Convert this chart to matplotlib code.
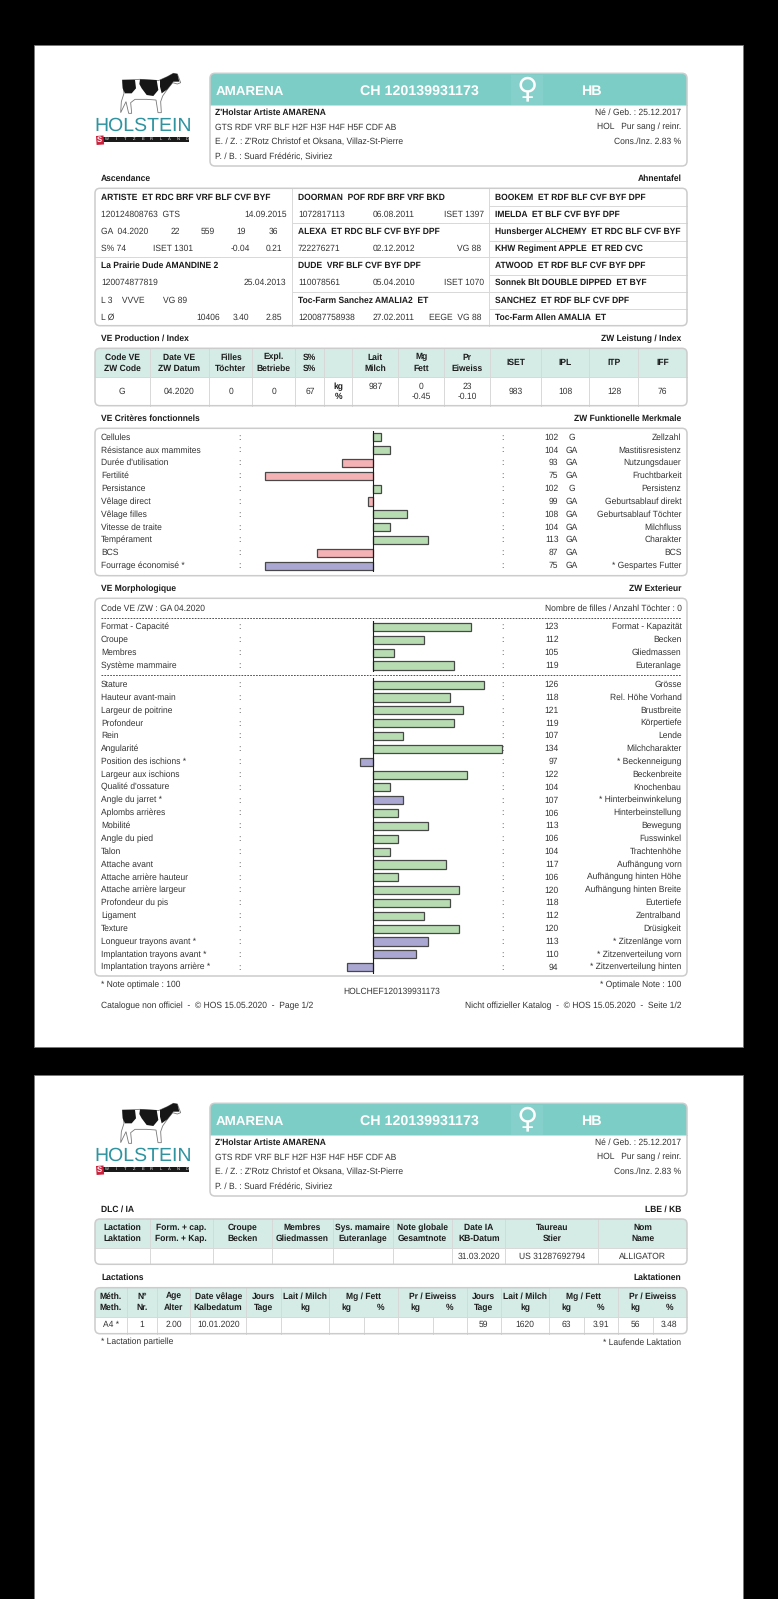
import matplotlib
matplotlib.use("Agg")
import matplotlib.pyplot as plt
from matplotlib.patches import FancyBboxPatch, Rectangle, Polygon
import numpy as np

plt.rcParams['font.family'] = ['Liberation Sans', 'DejaVu Sans']
plt.rcParams['text.hinting'] = 'none'

# identification
animal_name = "AMARENA"
animal_id = "CH 120139931173"
animal_breed = "HB"
info_left = ["Z'Holstar Artiste AMARENA", "GTS RDF VRF BLF H2F H3F H4F H5F CDF AB",
             "E. / Z. : Z'Rotz Christof et Oksana, Villaz-St-Pierre", "P. / B. : Suard Frédéric, Siviriez"]
info_right = ["Né / Geb. : 25.12.2017", "HOL   Pur sang / reinr.", "Cons./Inz. 2.83 %"]

# pedigree, third column (all bold)
ped_col3 = ["BOOKEM  ET RDF BLF CVF BYF DPF", "IMELDA  ET BLF CVF BYF DPF",
            "Hunsberger ALCHEMY  ET RDC BLF CVF BYF", "KHW Regiment APPLE  ET RED CVC",
            "ATWOOD  ET RDF BLF CVF BYF DPF", "Sonnek Blt DOUBLE DIPPED  ET BYF",
            "SANCHEZ  ET RDF BLF CVF DPF", "Toc-Farm Allen AMALIA  ET"]

# production table
prod_head1 = ["Code VE", "Date VE", "Filles", "Expl.", "S%", "", "Lait", "Mg", "Pr"]
prod_head2 = ["ZW Code", "ZW Datum", "Töchter", "Betriebe", "S%", "", "Milch", "Fett", "Eiweiss"]
prod_index = ["ISET", "IPL", "ITP", "IFF"]
prod_values = ["G", "04.2020", "0", "0", "67"]
prod_index_values = ["983", "108", "128", "76"]

# functional traits
func_fr = ["Cellules", "Résistance aux mammites", "Durée d'utilisation", "Fertilité", "Persistance",
           "Vêlage direct", "Vêlage filles", "Vitesse de traite", "Tempérament", "BCS", "Fourrage économisé *"]
func_de = ["Zellzahl", "Mastitisresistenz", "Nutzungsdauer", "Fruchtbarkeit", "Persistenz",
           "Geburtsablauf direkt", "Geburtsablauf Töchter", "Milchfluss", "Charakter", "BCS", "* Gespartes Futter"]
func_values = [102, 104, 93, 75, 102, 99, 108, 104, 113, 87, 75]
func_codes = ["G", "GA", "GA", "GA", "G", "GA", "GA", "GA", "GA", "GA", "GA"]

# morphology, composite traits
comp_fr = ["Format - Capacité", "Croupe", "Membres", "Système mammaire"]
comp_de = ["Format - Kapazität", "Becken", "Gliedmassen", "Euteranlage"]
comp_values = [123, 112, 105, 119]

# morphology, linear traits
lin_fr = ["Stature", "Hauteur avant-main", "Largeur de poitrine", "Profondeur", "Rein", "Angularité",
          "Position des ischions *", "Largeur aux ischions", "Qualité d'ossature", "Angle du jarret *",
          "Aplombs arrières", "Mobilité", "Angle du pied", "Talon", "Attache avant", "Attache arrière hauteur",
          "Attache arrière largeur", "Profondeur du pis", "Ligament", "Texture", "Longueur trayons avant *",
          "Implantation trayons avant *", "Implantation trayons arrière *"]
lin_de = ["Grösse", "Rel. Höhe Vorhand", "Brustbreite", "Körpertiefe", "Lende", "Milchcharakter",
          "* Beckenneigung", "Beckenbreite", "Knochenbau", "* Hinterbeinwinkelung", "Hinterbeinstellung",
          "Bewegung", "Fusswinkel", "Trachtenhöhe", "Aufhängung vorn", "Aufhängung hinten Höhe",
          "Aufhängung hinten Breite", "Eutertiefe", "Zentralband", "Drüsigkeit", "* Zitzenlänge vorn",
          "* Zitzenverteilung vorn", "* Zitzenverteilung hinten"]
lin_values = [126, 118, 121, 119, 107, 134, 97, 122, 104, 107, 106, 113, 106, 104, 117, 106, 120, 118, 112,
              120, 113, 110, 94]

# page 2 tables
dlc_head1 = ["Lactation", "Form. + cap.", "Croupe", "Membres", "Sys. mamaire", "Note globale", "Date IA", "Taureau", "Nom"]
dlc_head2 = ["Laktation", "Form. + Kap.", "Becken", "Gliedmassen", "Euteranlage", "Gesamtnote", "KB-Datum", "Stier", "Name"]
dlc_values = ["", "", "", "", "", "", "31.03.2020", "US 31287692794", "ALLIGATOR"]

lact_head1 = ["Méth.", "N°", "Age", "Date vêlage", "Jours", "Lait / Milch", "Mg / Fett", "Pr / Eiweiss",
              "Jours", "Lait / Milch", "Mg / Fett", "Pr / Eiweiss"]
lact_head2 = ["Meth.", "Nr.", "Alter", "Kalbedatum", "Tage", "kg", "", "", "Tage", "kg", "", ""]
lact_values = ["A4 *", "1", "2.00", "10.01.2020", "59", "1620", "63", "3.91", "56", "3.48"]

TEAL = "#7ccdc6"
LIGHT = "#d5ebe6"
EDGE = "#cccccc"
LINE = "#d8d8d8"
INK = "#333333"
BOLD_INK = "#1c1c1c"
GREEN = "#b8dcb2"
PINK = "#f5b2b5"
PURPLE = "#aba7d3"
FS = 6.15

L, R = 101, 681.5
BOX_L, BOX_R = 95, 687

W, H = 778, 1599
fig = plt.figure(figsize=(W / 100, H / 100), dpi=100, facecolor="black")
ax = fig.add_axes([0, 0, 1, 1])
ax.set_xlim(0, W)
ax.set_ylim(H, 0)
ax.axis("off")


def t(x, y, s, ha="left", bold=False, size=FS, color=None, **kw):
    if color is None:
        color = BOLD_INK if bold else INK
    ax.text(x, y, s, ha=ha, va="center", size=size, color=color,
            fontweight="bold" if bold else "normal", **kw)


def box(x0, y0, x1, y1, head_to=None, head_color=LIGHT):
    outline = FancyBboxPatch((x0, y0), x1 - x0, y1 - y0, boxstyle="round,pad=0,rounding_size=5",
                             fc="white", ec="none", zorder=2)
    ax.add_patch(outline)
    if head_to is not None:
        r = Rectangle((x0, y0), x1 - x0, head_to - y0, fc=head_color, ec="none", zorder=2.1)
        ax.add_patch(r)
        r.set_clip_path(outline)
        ax.plot([x0, x1], [head_to, head_to], color=LINE, lw=0.7, zorder=3)
    # border goes over the filled head
    ax.add_patch(FancyBboxPatch((x0, y0), x1 - x0, y1 - y0, boxstyle="round,pad=0,rounding_size=5",
                                fc="none", ec=EDGE, lw=1.1, zorder=4))


def vlines(xs, y0, y1):
    for x in xs:
        ax.plot([x, x], [y0, y1], color=LINE, lw=0.7, zorder=3)


def hline(x0, x1, y):
    ax.plot([x0, x1], [y, y], color=LINE, lw=0.7, zorder=3)


def logo(dy):
    # cow, outline then black patches
    def cow(pts, **kw):
        p = np.array(pts, dtype=float)
        ax.add_patch(Polygon(np.c_[90 + p[:, 0] / 3, 60 + dy + p[:, 1] / 3], closed=True, zorder=3, **kw))
    cow([(97, 60), (150, 58), (205, 62), (232, 50), (250, 40), (262, 42), (272, 68), (262, 72), (248, 68),
         (232, 88), (218, 108), (212, 125), (214, 158), (204, 158), (198, 120), (170, 118), (135, 118),
         (122, 128), (125, 160), (116, 160), (108, 125), (92, 158), (94, 125), (102, 100)],
        fc="white", ec="#777777", lw=0.6)
    cow([(97, 60), (135, 60), (138, 85), (125, 100), (105, 100), (98, 85)], fc="#161616", ec="none")
    cow([(150, 58), (200, 60), (205, 90), (190, 108), (170, 105), (155, 85), (148, 72)], fc="#161616", ec="none")
    cow([(210, 60), (232, 50), (250, 40), (262, 42), (268, 65), (250, 65), (232, 88), (215, 100), (210, 80)],
        fc="#161616", ec="none")
    t(143.5, 125.5 + dy, "HOLSTEIN", ha="center", size=14, color="#2f93a0")
    ax.add_patch(Rectangle((103, 136.5 + dy), 86, 5, fc="#1a1a1a", ec="none", zorder=3))
    ax.add_patch(Rectangle((96, 136 + dy), 7.5, 9, fc="#c8223c", ec="none", zorder=3, angle=-4))
    t(99.8, 140.3 + dy, "S", ha="center", bold=True, size=5.5, color="white", zorder=4)
    for x, c in zip(np.linspace(107, 187, 10), "WITZERLAND"):
        t(x, 139 + dy, c, ha="center", size=3, color="white", zorder=4)


def header(dy):
    logo(dy)
    box(210, 73.3 + dy, 687, 166 + dy, 105 + dy, TEAL)
    ax.add_patch(Rectangle((511, 74.5 + dy), 32, 30, fc="#85d0ca", ec="none", zorder=3))
    t(215.4, 91.5 + dy, animal_name, bold=True, size=9.6, color="white", zorder=5)
    t(360, 91.5 + dy, animal_id, bold=True, size=10.3, color="white", zorder=5)
    t(527, 89 + dy, "♀", ha="center", size=21, color="white", family=["DejaVu Sans"], zorder=5)
    t(580.6, 91.5 + dy, animal_breed, bold=True, size=10.3, color="white", zorder=5)
    ys = [113 + dy, 127.3 + dy, 142 + dy, 156.3 + dy]
    for i, (y, s) in enumerate(zip(ys, info_left)):
        t(215.4, y, s, bold=i == 0, zorder=5)
    for y, s in zip(ys, info_right):
        t(R, y, s, ha="right", zorder=5)


def bars(values, labels, y0, step=12.84):
    n = len(values)
    # bars run 4.3 px per index point around 100, cut at 70 and 130
    pos = ax.transData.transform([(243.5, y0 - step / 2), (501.5, y0 + (n - 0.5) * step)])
    a = fig.add_axes([pos[0][0] / W, pos[1][1] / H, (pos[1][0] - pos[0][0]) / W, (pos[0][1] - pos[1][1]) / H])
    a.set_xlim(70, 130)
    a.set_ylim(n - 0.5, -0.5)
    a.axis("off")
    a.patch.set_alpha(0)
    v = np.clip(values, 70, 130)
    colors = [PURPLE if "*" in lab else (GREEN if val >= 100 else PINK) for lab, val in zip(labels, values)]
    a.barh(range(n), v - 100, left=100, height=0.63, color=colors, edgecolor="#484848", linewidth=0.9, clip_on=False)
    a.axvline(100, color="#1a1a1a", lw=0.8)


def trait_rows(fr, de, values, y0, codes=None, step=12.84):
    for i in range(len(fr)):
        y = y0 + i * step
        t(L, y, fr[i])
        t(239, y, ":", ha="center")
        t(501.9, y, ":", ha="center")
        t(558.5, y, str(values[i]), ha="right")
        if codes:
            t(572, y, codes[i], ha="center")
        t(R, y, de[i], ha="right")


def ticks(zs):
    return [80 + z / 2.489 for z in zs]


# pages
ax.add_patch(Rectangle((34.5, 45), 708.8, 1002, fc="white", ec="#777777", lw=0.6))
ax.add_patch(Rectangle((34.5, 1075.3), 708.8, 530, fc="white", ec="#777777", lw=0.6))

# ---- page 1 ----
header(0)

# pedigree
t(L, 178.7, "Ascendance", bold=True)
t(R, 178.7, "Ahnentafel", ha="right", bold=True)
box(BOX_L, 188.3, BOX_R, 325.7)
vlines([292, 489.4], 188.3, 325.7)
hline(BOX_L, 489.4, 257.3)
hline(292, 489.4, 223.3)
hline(292, 489.4, 291.7)
ped_y = [197.3, 214.7, 232, 248.7, 266, 283, 300.3, 317.7]
for y in ped_y[:-1]:
    hline(489.4, BOX_R, y + 8.6)
for y, s in zip(ped_y, ped_col3):
    t(495.4, y, s, bold=True)

t(L, ped_y[0], "ARTISTE  ET RDC BRF VRF BLF CVF BYF", bold=True)
t(L, ped_y[1], "120124808763  GTS")
t(286.5, ped_y[1], "14.09.2015", ha="right")
t(L, ped_y[2], "GA  04.2020")
for x, s in zip([175, 207.8, 240.7, 273.7], ["22", "559", "19", "36"]):
    t(x, ped_y[2], s, ha="center")
t(L, ped_y[3], "S% 74")
t(152.7, ped_y[3], "ISET 1301")
for x, s in zip([240.7, 273.7], ["-0.04", "0.21"]):
    t(x, ped_y[3], s, ha="center")
t(L, ped_y[4], "La Prairie Dude AMANDINE 2", bold=True)
t(L, ped_y[5], "120074877819")
t(286.5, ped_y[5], "25.04.2013", ha="right")
t(L, ped_y[6], "L 3    VVVE")
t(163, ped_y[6], "VG 89")
t(L, ped_y[7], "L Ø")
for x, s in zip([208, 240.7, 273.7], ["10406", "3.40", "2.85"]):
    t(x, ped_y[7], s, ha="center")

t(298, ped_y[0], "DOORMAN  POF RDF BRF VRF BKD", bold=True)
t(298, ped_y[1], "1072817113")
t(373, ped_y[1], "06.08.2011")
t(483.8, ped_y[1], "ISET 1397", ha="right")
t(298, ped_y[2], "ALEXA  ET RDC BLF CVF BYF DPF", bold=True)
t(298, ped_y[3], "722276271")
t(373, ped_y[3], "02.12.2012")
t(481.4, ped_y[3], "VG 88", ha="right")
t(298, ped_y[4], "DUDE  VRF BLF CVF BYF DPF", bold=True)
t(298, ped_y[5], "110078561")
t(373, ped_y[5], "05.04.2010")
t(483.8, ped_y[5], "ISET 1070", ha="right")
t(298, ped_y[6], "Toc-Farm Sanchez AMALIA2  ET", bold=True)
t(298, ped_y[7], "120087758938")
t(373, ped_y[7], "27.02.2011")
t(481.4, ped_y[7], "EEGE  VG 88", ha="right")

# production
t(L, 338.7, "VE Production / Index", bold=True)
t(R, 338.7, "ZW Leistung / Index", ha="right", bold=True)
box(BOX_L, 348.3, BOX_R, 405.7, 377.3)
prod_x = ticks([173, 322, 429, 536, 608, 678, 792, 906, 1020, 1148, 1268, 1390])
vlines(prod_x, 348.3, 405.7)
edges = [BOX_L] + prod_x + [BOX_R]
mids = [(a + b) / 2 for a, b in zip(edges[:-1], edges[1:])]
for i in range(9):
    t(mids[i], 357.3, prod_head1[i], ha="center", bold=True, zorder=5)
    t(mids[i], 368.7, prod_head2[i], ha="center", bold=True, zorder=5)
for x, s in zip(mids[9:], prod_index):
    t(x, 362.7, s, ha="center", bold=True, zorder=5)
for x, s in zip(mids[:5], prod_values):
    t(x, 392, s, ha="center")
t(mids[5], 386.7, "kg", ha="center", bold=True)
t(mids[5], 397, "%", ha="center", bold=True)
t(mids[6], 386.7, "987", ha="center")
t(mids[7], 386.7, "0", ha="center")
t(mids[7], 397, "-0.45", ha="center")
t(mids[8], 386.7, "23", ha="center")
t(mids[8], 397, "-0.10", ha="center")
for x, s in zip(mids[9:], prod_index_values):
    t(x, 392, s, ha="center")

# functional traits
t(L, 418.7, "VE Critères fonctionnels", bold=True)
t(R, 418.7, "ZW Funktionelle Merkmale", ha="right", bold=True)
box(BOX_L, 428.3, BOX_R, 575.7)
trait_rows(func_fr, func_de, func_values, 437.3, func_codes)
bars(func_values, func_fr, 437.3)

# morphology
t(L, 588.7, "VE Morphologique", bold=True)
t(R, 588.7, "ZW Exterieur", ha="right", bold=True)
box(BOX_L, 598.3, BOX_R, 976)
t(L, 609, "Code VE /ZW : GA 04.2020")
t(R, 609, "Nombre de filles / Anzahl Töchter : 0", ha="right")
for y in [617.7, 675]:
    ax.plot([L, R], [y, y], color="#333333", lw=0.6, ls=(0, (2, 1.5)), zorder=3)
trait_rows(comp_fr, comp_de, comp_values, 627)
bars(comp_values, comp_fr, 627)
trait_rows(lin_fr, lin_de, lin_values, 684.7)
bars(lin_values, lin_fr, 684.7)

t(L, 985.3, "* Note optimale : 100")
t(R, 985.3, "* Optimale Note : 100", ha="right")
t(391.4, 991.3, "HOLCHEF120139931173", ha="center")
t(L, 1006.3, "Catalogue non officiel  -  © HOS 15.05.2020  -  Page 1/2")
t(R, 1006.3, "Nicht offizieller Katalog  -  © HOS 15.05.2020  -  Seite 1/2", ha="right")

# ---- page 2 ----
header(1030)

t(L, 1209, "DLC / IA", bold=True)
t(R, 1209, "LBE / KB", ha="right", bold=True)
box(BOX_L, 1219, BOX_R, 1264.3, 1248.3)
dlc_x = ticks([173, 330, 479, 629, 778, 927, 1059, 1290])
vlines(dlc_x, 1219, 1264.3)
edges = [BOX_L] + dlc_x + [BOX_R]
for i, (a, b) in enumerate(zip(edges[:-1], edges[1:])):
    t((a + b) / 2, 1227.7, dlc_head1[i], ha="center", bold=True, zorder=5)
    t((a + b) / 2, 1239, dlc_head2[i], ha="center", bold=True, zorder=5)
    t((a + b) / 2, 1256.7, dlc_values[i], ha="center")

t(L, 1277.3, "Lactations", bold=True)
t(R, 1277.3, "Laktationen", ha="right", bold=True)
box(BOX_L, 1287.7, BOX_R, 1333.7, 1316.7)
vlines(ticks([116, 192, 274, 414, 500, 620, 792, 963, 1048, 1168, 1340]), 1287.7, 1333.7)
vlines(ticks([706, 878, 1254, 1425]), 1316.7, 1333.7)
lact_x = ticks([77, 154, 233, 344, 457, 560, 706, 877, 1005, 1108, 1254, 1425])
for i, x in enumerate(lact_x):
    t(x, 1296.3, lact_head1[i], ha="center", bold=True, zorder=5)
    t(x, 1308, lact_head2[i], ha="center", bold=True, zorder=5)
for x, s in zip(ticks([663, 749, 835, 920, 1211, 1296, 1382, 1467]), ["kg", "%"] * 4):
    t(x, 1308, s, ha="center", bold=True, zorder=5)
for x, s in zip(ticks([77, 154, 233, 344, 1005, 1108, 1211, 1296, 1382, 1467]), lact_values):
    t(x, 1325, s, ha="center")
t(L, 1342.3, "* Lactation partielle")
t(R, 1342.3, "* Laufende Laktation", ha="right")

fig.savefig("out.png", dpi=100, facecolor="black")
